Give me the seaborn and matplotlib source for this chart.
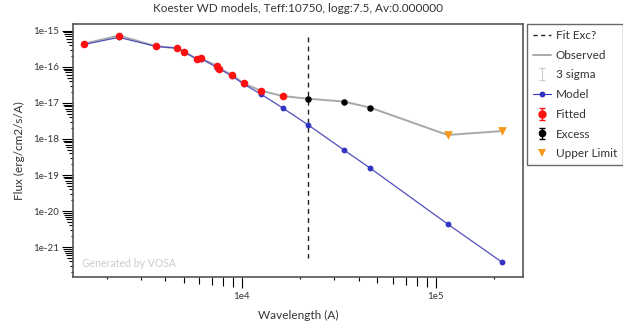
import numpy as np
import pandas as pd
import matplotlib
matplotlib.use("Agg")
import matplotlib.pyplot as plt
from matplotlib.lines import Line2D
from matplotlib.ticker import LogLocator, FuncFormatter, NullFormatter
import seaborn as sns

# Photometric SED (wavelength in Angstrom, flux in erg/cm2/s/A)
wavelength = [1535, 2317, 3597, 4638, 5037, 5838, 6140, 7480, 7620, 8913,
              10240, 12486, 16340, 21980, 33620, 45960, 115300, 220800]
observed_flux = [4.4e-16, 7.4e-16, 3.76e-16, 3.3e-16, 2.6e-16, 1.69e-16, 1.74e-16,
                 1.05e-16, 9.0e-17, 6.0e-17, 3.47e-17, 2.2e-17, 1.54e-17,
                 1.31e-17, 1.09e-17, 7.4e-18, 1.29e-18, 1.66e-18]
model_flux = [4.2e-16, 6.6e-16, 3.7e-16, 3.3e-16, 2.6e-16, 1.65e-16, 1.7e-16,
              9.5e-17, 9.0e-17, 5.5e-17, 3.3e-17, 1.78e-17, 7.1e-18,
              2.45e-18, 4.95e-19, 1.55e-19, 4.37e-21, 3.76e-22]
point_kind = ["Fitted"] * 13 + ["Excess"] * 3 + ["Upper Limit"] * 2
fit_excess_start = 21980

title = "Koester WD models, Teff:10750, logg:7.5, Av:0.000000"

df = pd.DataFrame({"wavelength": wavelength, "observed": observed_flux,
                   "model": model_flux, "kind": point_kind})

sns.set_theme(style="white")
plt.rcParams["font.family"] = ["Lato", "DejaVu Sans"]

fig = plt.figure(figsize=(6.23, 3.31), dpi=100)
ax = fig.add_axes([73 / 623, 1 - 277 / 331, 450 / 623, 253 / 331])
ax.set_xscale("log")
ax.set_yscale("log")

obs_color = "#a8a8a8"
model_color = "#3434c4"
fit_color = "#ff1010"
exc_color = "#000000"
up_color = "#f59a1c"

# observed SED line
sns.lineplot(data=df, x="wavelength", y="observed", sort=False, color=obs_color,
             lw=1.4, ax=ax, legend=False, zorder=2)
# model SED line with points
sns.lineplot(data=df, x="wavelength", y="model", sort=False, color="#9a9ab8",
             lw=1.3, ax=ax, legend=False, zorder=2.5, alpha=0.5)
sns.lineplot(data=df, x="wavelength", y="model", sort=False, color=model_color,
             lw=0.6, marker="o", markersize=4.2, markeredgewidth=0,
             ax=ax, legend=False, zorder=3)

fit = df[df.kind == "Fitted"]
exc = df[df.kind == "Excess"]
up = df[df.kind == "Upper Limit"]
sns.scatterplot(data=fit, x="wavelength", y="observed", color=fit_color, s=30,
                linewidth=0, ax=ax, legend=False, zorder=4)
sns.scatterplot(data=exc, x="wavelength", y="observed", color=exc_color, s=22,
                linewidth=0, ax=ax, legend=False, zorder=4)
sns.scatterplot(data=up, x="wavelength", y="observed", color=up_color, s=40,
                marker="v", linewidth=0, ax=ax, legend=False, zorder=4)

# limit of the fitted range
ax.vlines(fit_excess_start, 10 ** -15.167, 10 ** -21.31, colors="#222222",
          linestyles=(0, (3.5, 3)), lw=1.0, zorder=1)

ax.set_xlim(10 ** 3.128, 10 ** 5.451)
ax.set_ylim(10 ** -21.83, 10 ** -14.81)

ax.set_xlabel("Wavelength (A)", fontsize=8.5, color="#333333", labelpad=6)
ax.set_ylabel("Flux (erg/cm2/s/A)", fontsize=8.5, color="#333333", labelpad=6)
ax.set_title(title, fontsize=8.5, color="#333333", pad=9)

ax.xaxis.set_major_locator(LogLocator(base=10, numticks=10))
ax.xaxis.set_minor_locator(LogLocator(base=10, subs=np.arange(2, 10), numticks=20))
ax.yaxis.set_major_locator(LogLocator(base=10, numticks=20))
ax.yaxis.set_minor_locator(LogLocator(base=10, subs=np.arange(2, 10), numticks=40))
decade = FuncFormatter(lambda v, p: f"1e{int(round(np.log10(v)))}")
ax.xaxis.set_major_formatter(decade)
ax.yaxis.set_major_formatter(decade)
ax.xaxis.set_minor_formatter(NullFormatter())
ax.yaxis.set_minor_formatter(NullFormatter())

ax.tick_params(axis="both", which="both", direction="out", color="black",
               bottom=True, left=True, top=False, right=False, width=0.8)
ax.tick_params(axis="both", which="major", length=8, labelsize=7, labelcolor="#333333")
ax.tick_params(axis="x", which="major", pad=3)
ax.tick_params(axis="y", which="major", pad=2)

for s in ax.spines.values():
    s.set_color("#555555")
    s.set_linewidth(1.2)

# minor tick length grows with the mantissa
fig.canvas.draw()
for axis in (ax.xaxis, ax.yaxis):
    locs = axis.get_minorticklocs()
    for tick, loc in zip(axis.get_minor_ticks(), locs):
        m = loc / 10 ** np.floor(np.log10(loc) + 1e-9)
        tick.tick1line.set_markersize(0.8 * m)

ax.text(0.02, 0.04, "Generated by VOSA", transform=ax.transAxes, fontsize=7.6,
        color="#cccccc")

handles = [
    Line2D([], [], color="#222222", ls=(0, (3, 2.5)), lw=1.0),
    Line2D([], [], color=obs_color, lw=1.4),
    ax.errorbar([np.nan], [np.nan], yerr=[np.nan], fmt="none", ecolor="#d0d0d0",
                elinewidth=0.8, capsize=2),
    Line2D([], [], color=model_color, lw=0.8, marker="o", markersize=4.2,
           markeredgewidth=0),
    ax.errorbar([np.nan], [np.nan], yerr=[np.nan], fmt="o", color=fit_color,
                markersize=5, elinewidth=1, capsize=2),
    ax.errorbar([np.nan], [np.nan], yerr=[np.nan], fmt="o", color=exc_color,
                markersize=4.5, elinewidth=1, capsize=2),
    Line2D([], [], color=up_color, ls="none", marker="v", markersize=6,
           markeredgewidth=0),
]
labels = ["Fit Exc?", "Observed", "3 sigma", "Model", "Fitted", "Excess", "Upper Limit"]
leg = fig.legend(handles, labels, loc="upper left",
                 bbox_to_anchor=(527 / 623, 1 - 24 / 331), fontsize=8.5,
                 frameon=True, fancybox=False, handlelength=1.5, handletextpad=0.45,
                 labelspacing=0.74, borderpad=0.5, borderaxespad=0)
leg.get_frame().set_edgecolor("#444444")
leg.get_frame().set_linewidth(1.0)
for t in leg.get_texts():
    t.set_color("#333333")

fig.savefig("out.png", dpi=100)
